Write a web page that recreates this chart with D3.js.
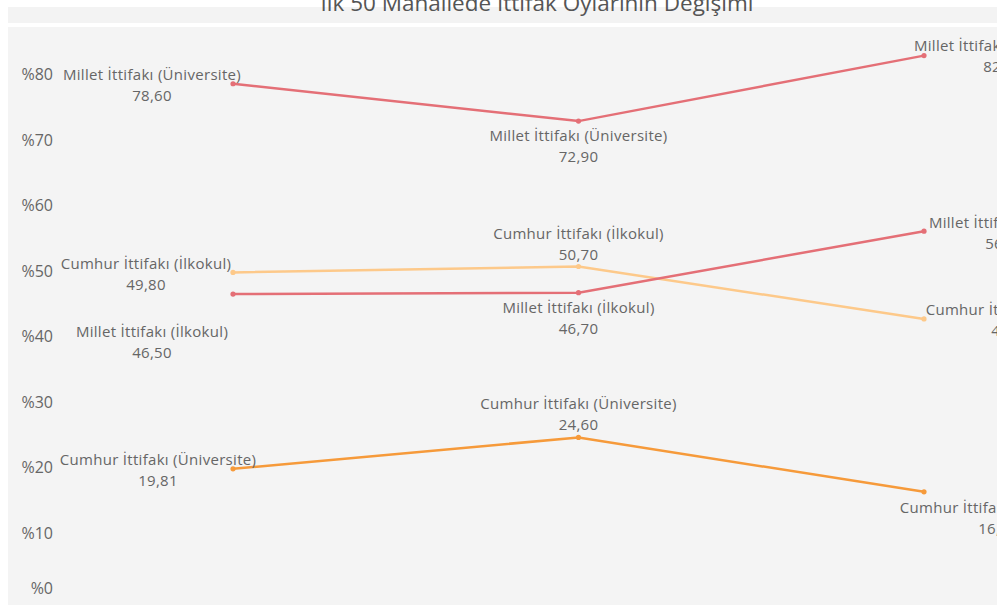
<!DOCTYPE html>
<html>
<head>
<meta charset="utf-8">
<script src="https://cdn.jsdelivr.net/npm/d3@7"></script>
<style>
  body { margin: 0; background: #fff; }
  svg { display: block; font-family: "Open Sans", sans-serif; }
</style>
</head>
<body>
<div id="chart"></div>
<script>
// Data
const title = "İlk 50 Mahallede İttifak Oylarının Değişimi";
const periods = ["Dönem 1", "Dönem 2", "Dönem 3"];
const seriesNames = [
  "Millet İttifakı (Üniversite)",
  "Cumhur İttifakı (İlkokul)",
  "Millet İttifakı (İlkokul)",
  "Cumhur İttifakı (Üniversite)"
];
const milletUniversite = [78.60, 72.90, 82.90];
const cumhurIlkokul = [49.80, 50.70, 42.70];
const milletIlkokul = [46.50, 46.70, 56.10];
const cumhurUniversite = [19.81, 24.60, 16.30];
const yTicks = [0, 10, 20, 30, 40, 50, 60, 70, 80];

const seriesValues = [milletUniversite, cumhurIlkokul, milletIlkokul, cumhurUniversite];
const colors = ["#e46f76", "#fdc98a", "#e46f76", "#f69a3a"];

// label block offsets from each point [dx, dy], per series and period
const labelOffsets = [
  [[-81, 0], [0, 23.5], [79, -1.5]],
  [[-87, 0], [0, -24.5], [87, 0]],
  [[-81, 46.5], [0, 23.5], [81, 0]],
  [[-75, 0], [0, -24.5], [74, 24.5]]
];

const w = 997, h = 606;

const svg = d3.select("#chart")
  .append("svg")
  .attr("width", w)
  .attr("height", h);

// Panels
svg.append("rect")
  .attr("x", 8).attr("y", 7)
  .attr("width", w - 8).attr("height", 16)
  .attr("fill", "#f3f3f3");

svg.append("rect")
  .attr("x", 8).attr("y", 27)
  .attr("width", w - 8).attr("height", 578)
  .attr("fill", "#f4f4f4");

svg.append("text")
  .attr("x", 537)
  .attr("y", 11)
  .attr("text-anchor", "middle")
  .attr("font-size", 22.5)
  .attr("fill", "#555")
  .text(title);

// Scales
const x = d3.scalePoint()
  .domain(periods)
  .range([233, 924]);

const y = d3.scaleLinear()
  .domain([0, 80])
  .range([598.6, 74.6]);

// Y axis labels
const yAxis = d3.axisLeft(y)
  .tickValues(yTicks)
  .tickSize(0)
  .tickFormat(d => "%" + d);

const gy = svg.append("g")
  .attr("transform", "translate(56,0)")
  .call(yAxis);

gy.select(".domain").remove();
gy.selectAll("text")
  .attr("font-size", 16)
  .attr("fill", "#666")
  .attr("font-family", "Open Sans, sans-serif")
  .attr("y", d => d === 0 ? -10 : 0);

// Lines
const line = d3.line()
  .x((d, i) => x(periods[i]))
  .y(d => y(d));

seriesValues.forEach((vals, s) => {
  svg.append("path")
    .datum(vals)
    .attr("d", line)
    .attr("fill", "none")
    .attr("stroke", colors[s])
    .attr("stroke-width", 2.5);

  svg.selectAll(null)
    .data(vals)
    .enter()
    .append("circle")
    .attr("cx", (d, i) => x(periods[i]))
    .attr("cy", d => y(d))
    .attr("r", 2.6)
    .attr("fill", colors[s]);
});

// Labels
seriesValues.forEach((vals, s) => {
  vals.forEach((v, i) => {
    const cx = x(periods[i]) + labelOffsets[s][i][0];
    const cy = y(v) + labelOffsets[s][i][1];
    const t = svg.append("text")
      .attr("text-anchor", "middle")
      .attr("font-size", 15)
      .attr("letter-spacing", 0.3)
      .attr("fill", "#666");
    t.append("tspan")
      .attr("x", cx)
      .attr("y", cy - 3.5)
      .text(seriesNames[s]);
    t.append("tspan")
      .attr("x", cx)
      .attr("y", cy + 17.5)
      .text(d3.format(".2f")(v).replace(".", ","));
  });
});
</script>
</body>
</html>
